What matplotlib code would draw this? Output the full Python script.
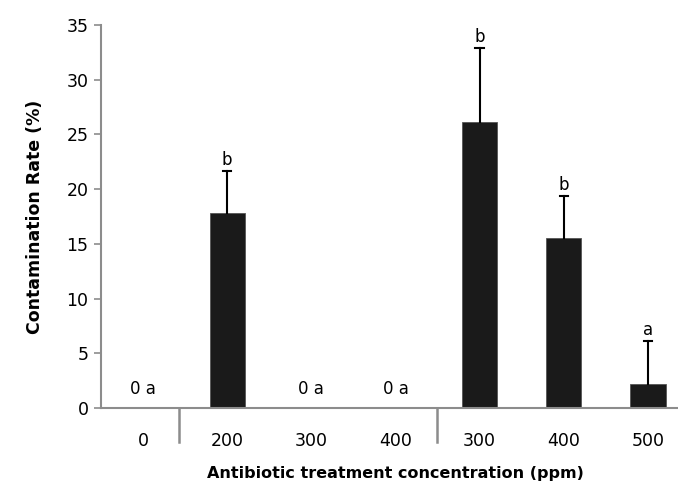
import numpy as np
import matplotlib
matplotlib.use("Agg")
import matplotlib.pyplot as plt

labels = ["0", "200", "300", "400", "300", "400", "500"]
rate = [0, 17.8, 0, 0, 26.1, 15.5, 2.2]
err = [0, 3.85, 0, 0, 6.8, 3.9, 3.9]
letters = ["0 a", "b", "0 a", "0 a", "b", "b", "a"]
separators = [0.43, 3.49]

grey = "#8c8c8c"
x = np.arange(len(labels))

fig = plt.figure(figsize=(6.78, 4.86), dpi=100)
ax = fig.add_axes([101 / 678, 1 - 408 / 486, 589 / 678, 383 / 486])

ax.bar(x, rate, width=0.42, color="#1a1a1a", edgecolor="#555555", linewidth=0.6, zorder=2)

# upper error bars only, with a cap on top
for i in range(len(x)):
    if err[i] > 0:
        top = rate[i] + err[i]
        ax.plot([x[i], x[i]], [rate[i], top], color="black", lw=1.5, zorder=3)
        ax.plot([x[i] - 0.05, x[i] + 0.05], [top, top], color="black", lw=1.5, zorder=3)

for i, t in enumerate(letters):
    top = rate[i] + err[i]
    if rate[i] == 0:
        ax.text(x[i], 0.9, t, ha="center", va="bottom", fontsize=12)
    else:
        ax.text(x[i], top + 0.2, t, ha="center", va="bottom", fontsize=12)

ax.set_xlim(-0.5, 6.5)
ax.set_ylim(0, 35)
ax.set_yticks(np.arange(0, 36, 5))
ax.set_xticks(x)
ax.set_xticklabels(labels)
ax.tick_params(axis="x", length=0, pad=17, labelsize=12.5)
ax.tick_params(axis="y", length=5, color=grey, width=1.2, labelsize=12.5, pad=4)

for s in ["top", "right"]:
    ax.spines[s].set_visible(False)
for s in ["left", "bottom"]:
    ax.spines[s].set_color(grey)
    ax.spines[s].set_linewidth(1.5)

for sx in separators:
    ax.plot([sx, sx], [0, -3.1], color=grey, lw=1.8, clip_on=False)

ax.set_ylabel("Contamination Rate (%)", fontsize=12.5, fontweight="bold", labelpad=16)
ax.set_xlabel("Antibiotic treatment concentration (ppm)", fontsize=11.5, fontweight="bold", labelpad=12)

fig.savefig("out.png", dpi=100)
